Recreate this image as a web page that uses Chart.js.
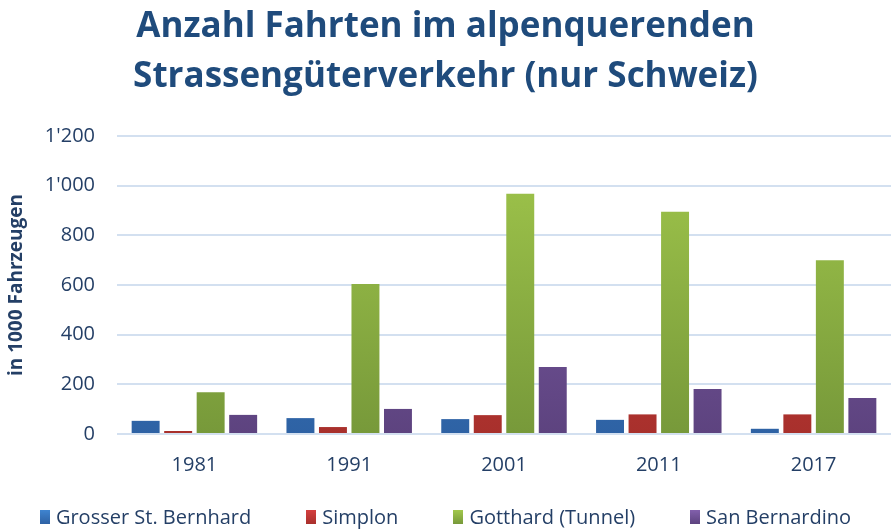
<!DOCTYPE html>
<html>
<head>
<meta charset="utf-8">
<script src="https://cdn.jsdelivr.net/npm/chart.js@4/dist/chart.umd.min.js"></script>
<style>
  html, body { margin: 0; padding: 0; background: #fff; }
  #wrap { width: 891px; height: 531px; position: relative; }
  #legend {
    position: absolute; left: 0; top: 503px; width: 891px;
    display: flex; justify-content: center; gap: 55px;
    font-family: "Open Sans", sans-serif; font-size: 20px; color: #243f66;
  }
  #legend span.item { display: flex; align-items: center; white-space: nowrap; }
  #legend span.box { display: inline-block; width: 10px; height: 14px; margin-right: 6px; }
</style>
</head>
<body>
<div id="wrap">
  <canvas id="alpChart"></canvas>
  <div id="legend"></div>
</div>
<script>
  /* Data */
  var years = ['1981', '1991', '2001', '2011', '2017'];
  var seriesNames = ['Grosser St. Bernhard', 'Simplon', 'Gotthard (Tunnel)', 'San Bernardino'];
  var bernhard = [53, 64, 60, 57, 21];
  var simplon = [12, 28, 76, 79, 79];
  var gotthard = [168, 604, 968, 895, 700];
  var bernardino = [77, 101, 270, 181, 145];
  var yTicks = [0, 200, 400, 600, 800, 1000, 1200];

  var colorsTop = ['#3f84d0', '#d43f3f', '#a2c84c', '#8260ac'];
  var colorsBottom = ['#2e62a4', '#a8302c', '#77993a', '#5d437f'];

  function gradient(i) {
    return function (context) {
      var chart = context.chart;
      var area = chart.chartArea;
      if (!area) return colorsTop[i];
      var g = chart.ctx.createLinearGradient(0, area.top, 0, area.bottom);
      g.addColorStop(0, colorsTop[i]);
      g.addColorStop(1, colorsBottom[i]);
      return g;
    };
  }

  var values = [bernhard, simplon, gotthard, bernardino];
  var datasets = values.map(function (v, i) {
    return {
      label: seriesNames[i],
      data: v,
      backgroundColor: gradient(i),
      borderWidth: 0,
      categoryPercentage: 0.84,
      barPercentage: 0.86
    };
  });

  var textColor = '#243f66';

  /* Legend (html, below the canvas) */
  var legendEl = document.getElementById('legend');
  seriesNames.forEach(function (name, i) {
    var item = document.createElement('span');
    item.className = 'item';
    var box = document.createElement('span');
    box.className = 'box';
    box.style.background = 'linear-gradient(' + colorsTop[i] + ',' + colorsBottom[i] + ')';
    item.appendChild(box);
    item.appendChild(document.createTextNode(name));
    legendEl.appendChild(item);
  });

  new Chart(document.getElementById('alpChart').getContext('2d'), {
    type: 'bar',
    data: { labels: years, datasets: datasets },
    options: {
      responsive: true,
      maintainAspectRatio: false,
      animation: false,
      layout: { padding: { left: 0, right: 0, top: 2, bottom: 43 } },
      plugins: {
        title: {
          display: true,
          text: ['Anzahl Fahrten im alpenquerenden', 'Strassengüterverkehr (nur Schweiz)'],
          color: '#1f4b7c',
          font: { family: '"Open Sans", sans-serif', size: 35, weight: 'bold', lineHeight: 1.43 },
          padding: { top: 0, bottom: 34 }
        },
        legend: { display: false },
        tooltip: { enabled: true }
      },
      scales: {
        x: {
          grid: { display: false },
          border: { display: false },
          ticks: {
            color: textColor,
            font: { family: '"Open Sans", sans-serif', size: 20 },
            padding: 11
          }
        },
        y: {
          min: 0,
          max: 1200,
          afterBuildTicks: function (axis) {
            axis.ticks = yTicks.map(function (v) { return { value: v }; });
          },
          afterFit: function (axis) { axis.width = 117; },
          grid: { color: '#d3e0f0', lineWidth: 2, drawTicks: false },
          border: { display: false },
          ticks: {
            color: textColor,
            font: { family: '"Open Sans", sans-serif', size: 20 },
            padding: 22,
            callback: function (v) {
              return String(v).replace(/\B(?=(\d{3})+(?!\d))/g, "'");
            }
          },
          title: {
            display: true,
            text: 'in 1000 Fahrzeugen',
            color: textColor,
            font: { family: '"Open Sans", sans-serif', size: 19, weight: 'bold' },
            padding: { top: 5, bottom: 0 }
          }
        }
      }
    }
  });
</script>
</body>
</html>
